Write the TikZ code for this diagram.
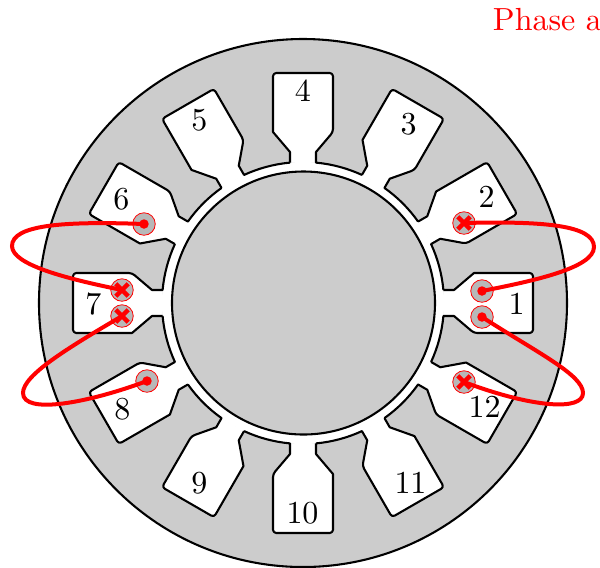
\documentclass[tikz,border=0pt]{standalone}
\usetikzlibrary{shapes.misc}
\definecolor{ironcol}{gray}{0.8}
\definecolor{condcol}{gray}{0.72}
\tikzset{
  edgeline/.style={draw=black,line width=0.65pt},
  slotfill/.style={fill=white,draw=none},
  slotline/.style={edgeline,line join=round},
  conductor/.style={circle,draw=red,fill=condcol,line width=0.25pt,minimum size=22.5*0.3125pt,inner sep=0pt},
  dotmark/.style={circle,fill=red,minimum size=9.5*0.3125pt,inner sep=0pt},
  crossmark/.style={cross out,draw=red,line width=1.4pt,minimum size=8*0.3125pt,inner sep=0pt},
  winding/.style={draw=red,line width=1.25pt,line cap=round},
  slotnum/.style={inner sep=0pt,text=black}
}
\begin{document}
\begin{tikzpicture}[x=0.3125pt,y=0.3125pt]
\useasboundingbox (-303,-264) rectangle (297,303);
% iron
\fill[ironcol] (0,0) circle[radius=264];
\draw[edgeline] (0,0) circle[radius=264];
\fill[white] (0,0) circle[radius=141];
\foreach \a in {0,30,...,330}{
  \fill[slotfill,rotate=\a] (5.29:141) -- (151,13) -- (171,30) -- (230,30) -- (230,-30) -- (171,-30) -- (151,-13) -- (-5.29:141) -- cycle;
  \draw[slotline,rotate=\a] (5.29:141) -- (151,13) -- (171,30) [rounded corners=1pt] -- (230,30) -- (230,-30) -- (171,-30) [sharp corners] -- (151,-13) -- (-5.29:141) arc[start angle=-5.29,end angle=-24.71,radius=141];
}
\filldraw[edgeline,fill=ironcol] (0.5,0) circle[radius=131.5];
% numbers
\node[slotnum] (n1) at (213.5,-1) {1};
\node[slotnum] (n2) at (183.5,106) {2};
\node[slotnum] (n3) at (105.5,179) {3};
\node[slotnum] (n4) at (0,212) {4};
\node[slotnum] (n5) at (-103.5,183) {5};
\node[slotnum] (n6) at (-181.5,104) {6};
\node[slotnum] (n7) at (-209.5,-1) {7};
\node[slotnum] (n8) at (-180.5,-106) {8};
\node[slotnum] (n9) at (-103.5,-180) {9};
\node[slotnum] (n10) at (-0.5,-210) {10};
\node[slotnum] (n11) at (107.5,-180) {11};
\node[slotnum] (n12) at (181.5,-104) {12};
\node[text=red,inner sep=0pt] (title) at (244.5,283) {Phase a};
% conductors
\node[conductor] (c1a) at (179,12) {};
\node[conductor] (c1b) at (179,-14) {};
\node[conductor] (c2) at (161,80) {};
\node[conductor] (c12) at (161,-79) {};
\node[conductor] (c6) at (-159,79) {};
\node[conductor] (c7a) at (-181,13) {};
\node[conductor] (c7b) at (-181,-13) {};
\node[conductor] (c8) at (-156,-78) {};
% windings
\draw[winding] (c2.center) .. controls (240,82) and (291,78) .. (291,56) .. controls (291,35) and (230,22) .. (c1a.center);
\draw[winding] (c1b.center) .. controls (235,-50) and (280,-72) .. (280,-90) .. controls (280,-108) and (230,-105) .. (c12.center);
\draw[winding] (c6.center) .. controls (-240,82) and (-291,78) .. (-291,57) .. controls (-291,38) and (-235,24) .. (c7a.center);
\draw[winding] (c7b.center) .. controls (-235,-45) and (-280,-72) .. (-280,-90) .. controls (-280,-112) and (-215,-100) .. (c8.center);
% marks
\node[dotmark] at (c1a) {};
\node[dotmark] at (c1b) {};
\node[dotmark] at (c6) {};
\node[dotmark] at (c8) {};
\node[crossmark] at (c2) {};
\node[crossmark] at (c12) {};
\node[crossmark] at (c7a) {};
\node[crossmark] at (c7b) {};
\end{tikzpicture}
\end{document}
